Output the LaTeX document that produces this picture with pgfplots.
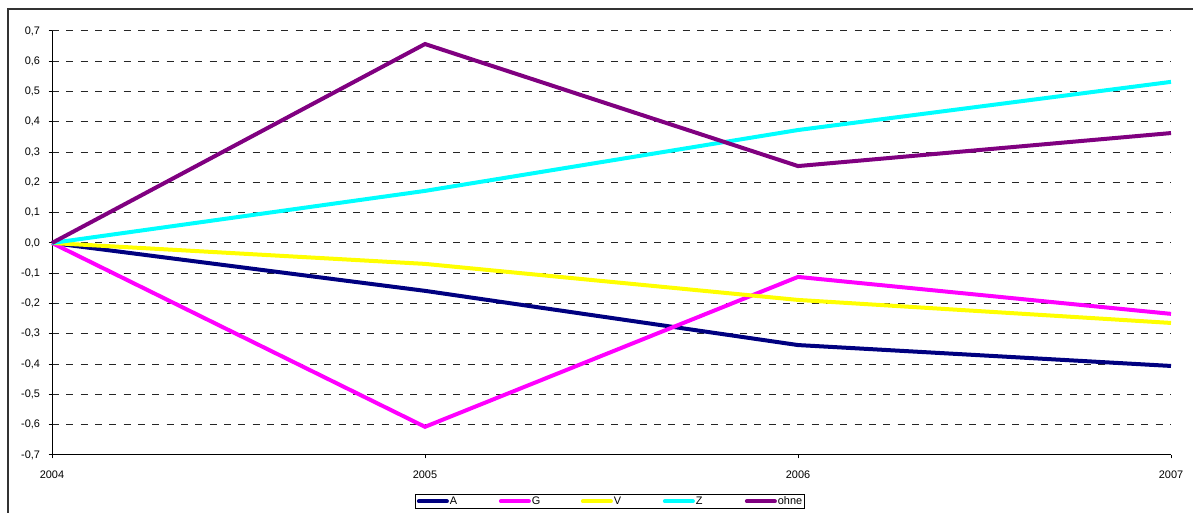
\documentclass[border=0pt]{standalone}
\usepackage{fontspec}
\setmainfont{Liberation Sans}
\usepackage{pgfplots}
\pgfplotsset{compat=1.18}

\definecolor{cA}{RGB}{0,0,128}
\definecolor{cG}{RGB}{255,0,255}
\definecolor{cV}{RGB}{255,255,0}
\definecolor{cZ}{RGB}{0,255,255}
\definecolor{cO}{RGB}{128,0,128}

\newcommand{\lbl}[1]{\makebox[36pt][l]{#1}}

\begin{document}
\begin{tikzpicture}
\useasboundingbox (0,0) rectangle (894.75pt,384.75pt);
\clip (0,0) rectangle (894.75pt,384.75pt);
% chart area frame
\draw[line width=1.5pt, black!80] (6pt,-10pt) -- (6pt,378pt) -- (910pt,378pt);
\begin{axis}[
  at={(39pt,43.5pt)}, anchor=south west,
  scale only axis, width=839.25pt, height=318pt,
  xmin=2004, xmax=2007, ymin=-0.7, ymax=0.7,
  xtick={2004,2005,2006,2007},
  xticklabels={2004,2005,2006,2007},
  ytick={-0.7,-0.6,...,0.71},
  axis x line*=bottom, axis y line*=left,
  axis line style={black, line width=0.75pt},
  tick align=outside, major tick length=2.5pt,
  tick style={black, line width=0.75pt},
  ymajorgrids,
  major grid style={black!85, line width=0.75pt, dash pattern=on 5.25pt off 5.5pt},
  /pgf/number format/assume math mode=true,
  tick label style={font=\fontsize{8.2}{9.8}\selectfont},
  yticklabel style={/pgf/number format/.cd, fixed, fixed zerofill, precision=1, use comma},
  yticklabel shift=3pt,
  xticklabel shift=6pt,
  clip=false,
  legend columns=5,
  legend style={at={(0.4987,-0.092)}, anchor=north, draw=black, line width=0.75pt,
    inner sep=0.75pt, font=\fontsize{8.2}{9.8}\selectfont,
    nodes={inner sep=0.75pt}},
  legend image code/.code={\draw[#1, line cap=round] (0pt,0pt) -- (21pt,0pt);},
  every axis plot/.append style={line width=3pt, line join=miter},
]
\addplot[cA] coordinates {(2004,0) (2005,-0.158) (2006,-0.337) (2007,-0.406)};
\addlegendentry{\lbl{A}}
\addplot[cG] coordinates {(2004,0) (2005,-0.607) (2006,-0.112) (2007,-0.234)};
\addlegendentry{\lbl{G}}
\addplot[cV] coordinates {(2004,0) (2005,-0.069) (2006,-0.188) (2007,-0.264)};
\addlegendentry{\lbl{V}}
\addplot[cZ] coordinates {(2004,0) (2005,0.172) (2006,0.373) (2007,0.532)};
\addlegendentry{\lbl{Z}}
\addplot[cO] coordinates {(2004,0) (2005,0.657) (2006,0.254) (2007,0.363)};
\addlegendentry{ohne}
\end{axis}
\end{tikzpicture}
\end{document}
